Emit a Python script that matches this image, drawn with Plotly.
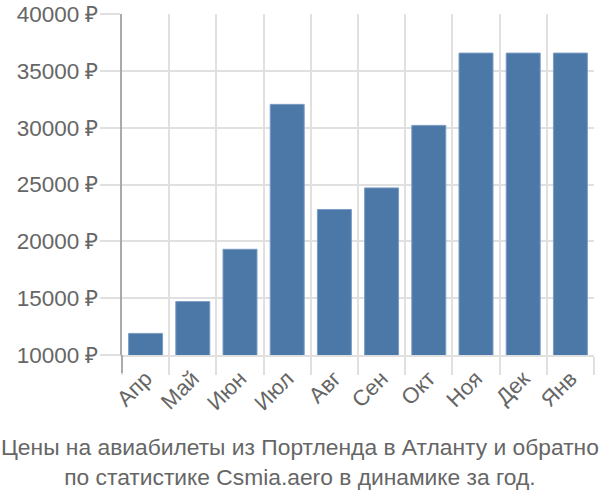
import plotly.graph_objects as go

months = ["Апр", "Май", "Июн", "Июл", "Авг", "Сен", "Окт", "Ноя", "Дек", "Янв"]
prices = [11900, 14700, 19300, 32050, 22800, 24700, 30200, 36560, 36560, 36560]
y_ticks = [10000, 15000, 20000, 25000, 30000, 35000, 40000]
y_labels = [f"{v} ₽" for v in y_ticks]
title_lines = ["Цены на авиабилеты из Портленда в Атланту и обратно",
               "по статистике Csmia.aero в динамике за год."]

fig = go.Figure(go.Bar(
    x=months, y=prices,
    marker=dict(color="#4c78a8", line=dict(color="#7a9cc4", width=1)),
))

fig.update_layout(
    width=600, height=500,
    margin=dict(l=122, r=6, t=14, b=145),
    plot_bgcolor="white", paper_bgcolor="white",
    bargap=0.28,
    showlegend=False,
    font=dict(family="Liberation Sans, Arial, sans-serif", color="#666666"),
)
fig.update_xaxes(
    tickson="boundaries", showgrid=True, gridcolor="#e0e0e0", gridwidth=2,
    ticks="outside", ticklen=18, tickcolor="#e0e0e0", tickwidth=2,
    tickangle=-45, tickfont=dict(size=22, color="#666666"),
    showline=True, linecolor="#e0e0e0", linewidth=2, automargin=False,
)
fig.update_yaxes(
    range=[10000, 40000], tickvals=y_ticks, ticktext=y_labels,
    showgrid=True, gridcolor="#e0e0e0", gridwidth=2,
    ticks="outside", ticklen=20, tickcolor="#e0e0e0", tickwidth=2,
    tickfont=dict(size=22.5, color="#666666"), ticklabelstandoff=-3,
    showline=True, linecolor="#aaaaaa", linewidth=2,
    zeroline=False, automargin=False,
)
fig.add_shape(type="line", xref="paper", yref="paper", x0=0, x1=0, y0=0, y1=-18 / 341,
              line=dict(color="#aaaaaa", width=2))
fig.add_annotation(
    text="<br>".join(title_lines), x=(300 - 122) / 472, xref="paper", y=0, yref="paper",
    xanchor="center", yanchor="top", yshift=-77, showarrow=False,
    font=dict(size=22.8, color="#666666"), align="center",
)
fig.write_html("out.html")
